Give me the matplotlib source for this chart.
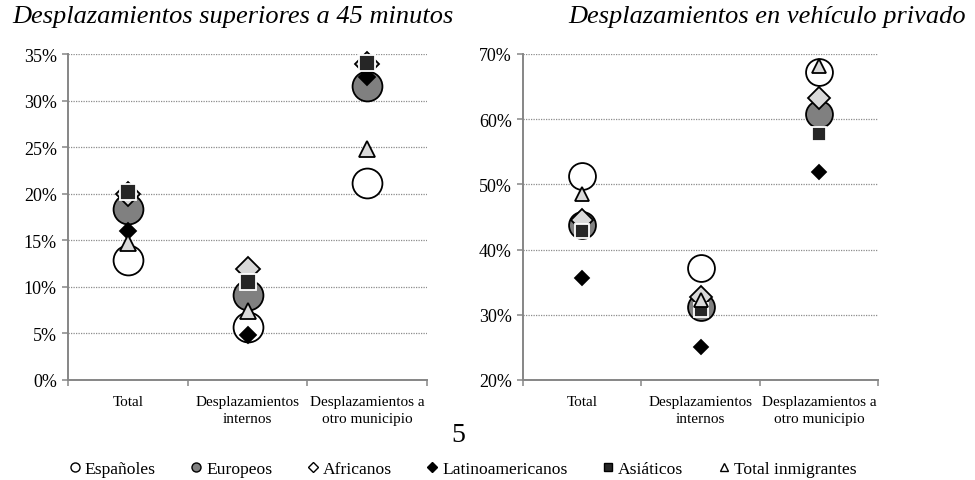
import matplotlib
matplotlib.use("Agg")
import matplotlib.pyplot as plt
from matplotlib.lines import Line2D
from matplotlib.ticker import FixedLocator, PercentFormatter

plt.rcParams["font.family"] = ["Liberation Serif", "DejaVu Serif"]

CATEGORIES = ["Total", "Desplazamientos\ninternos", "Desplazamientos a\notro municipio"]
SERIES = ["Españoles", "Europeos", "Africanos", "Latinoamericanos", "Asiáticos", "Total inmigrantes"]

# share (%) of trips longer than 45 minutes
LONG_TRIPS = {
    "Españoles": [12.9, 5.7, 21.1],
    "Europeos": [18.4, 9.1, 31.6],
    "Africanos": [20.0, 11.9, 33.9],
    "Latinoamericanos": [16.0, 4.8, 32.5],
    "Asiáticos": [20.2, 10.5, 34.0],
    "Total inmigrantes": [14.7, 7.4, 24.8],
}
# share (%) of trips made in a private vehicle
PRIVATE_CAR = {
    "Españoles": [51.3, 37.2, 67.3],
    "Europeos": [43.8, 31.2, 60.8],
    "Africanos": [44.6, 32.7, 63.3],
    "Latinoamericanos": [35.6, 25.1, 51.9],
    "Asiáticos": [42.8, 30.7, 57.8],
    "Total inmigrantes": [48.6, 32.3, 68.2],
}

# marker, face, edge, size (pt)
STYLE = {
    "Españoles": ("o", "white", "black", 21.5),
    "Europeos": ("o", "#808080", "black", 21.5),
    "Africanos": ("D", "#D9D9D9", "black", 12.0),
    "Latinoamericanos": ("D", "black", "black", 8.0),
    "Asiáticos": ("s", "#262626", "white", 11.5),
    "Total inmigrantes": ("^", "#D9D9D9", "black", 11.5),
}

W, H = 975, 481
GRID = "#8C8C8C"
SPINE = "#868686"


def draw_panel(ax, data, ymin, ymax, step, scale):
    x = [0.5, 1.5, 2.5]
    for z, name in enumerate(SERIES):
        marker, face, edge, size = STYLE[name]
        ax.plot(x, data[name], ls="none", marker=marker, markersize=size * scale,
                markerfacecolor=face, markeredgecolor=edge, markeredgewidth=1.3,
                zorder=3 + z, clip_on=False)
    ax.set_xlim(0, 3)
    ax.set_ylim(ymin, ymax)
    ticks = list(range(ymin, ymax + 1, step))
    ax.yaxis.set_major_locator(FixedLocator(ticks))
    ax.yaxis.set_major_formatter(PercentFormatter(decimals=0))
    ax.grid(axis="y", color=GRID, ls=(0, (1, 1)), lw=0.9, zorder=0)
    ax.set_axisbelow(True)
    ax.xaxis.set_major_locator(FixedLocator([0, 1, 2, 3]))
    ax.xaxis.set_minor_locator(FixedLocator(x))
    ax.set_xticklabels([])
    ax.set_xticklabels(CATEGORIES, minor=True, fontsize=11, linespacing=1.35)
    ax.tick_params(axis="x", which="major", length=4, width=1.1, color=SPINE, direction="out")
    ax.tick_params(axis="x", which="minor", length=0, pad=11)
    ax.tick_params(axis="y", length=4, width=1.1, color=SPINE, direction="out", labelsize=13, pad=4)
    for side in ("top", "right"):
        ax.spines[side].set_visible(False)
    for side in ("left", "bottom"):
        ax.spines[side].set_color(SPINE)
        ax.spines[side].set_linewidth(1.4)


fig = plt.figure(figsize=(W / 100, H / 100), dpi=100)
ax1 = fig.add_axes([68 / W, 1 - 381 / H, 359 / W, 326 / H])
ax2 = fig.add_axes([523 / W, 1 - 381 / H, 355 / W, 326 / H])

draw_panel(ax1, LONG_TRIPS, 0, 35, 5, 1.0)
draw_panel(ax2, PRIVATE_CAR, 20, 70, 10, 0.9)

fig.text(12 / W, 1 - 23 / H, "Desplazamientos superiores a 45 minutos",
         fontsize=19, style="italic", ha="left", va="baseline")
fig.text(568 / W, 1 - 23 / H, "Desplazamientos en vehículo privado",
         fontsize=19, style="italic", ha="left", va="baseline")
fig.text(458 / W, 1 - 442 / H, "5", fontsize=20, ha="center", va="baseline")

handles = []
for name in SERIES:
    marker, face, edge, size = STYLE[name]
    if name in ("Africanos", "Total inmigrantes"):
        face = "white"
    ms = {"o": 6.5, "D": 4.6, "s": 5.5, "^": 5.5}[marker]
    handles.append(Line2D([], [], ls="none", marker=marker, markersize=ms,
                          markerfacecolor=face, markeredgecolor="black" if edge == "white" else edge,
                          markeredgewidth=1.0, label=name))
fig.legend(handles=handles, loc="center", bbox_to_anchor=(462 / W, 1 - 470 / H), ncol=6,
           frameon=False, fontsize=12.6, handlelength=0.8, handletextpad=0.18,
           columnspacing=1.9, borderpad=0, borderaxespad=0)

fig.savefig("out.png", dpi=100)
